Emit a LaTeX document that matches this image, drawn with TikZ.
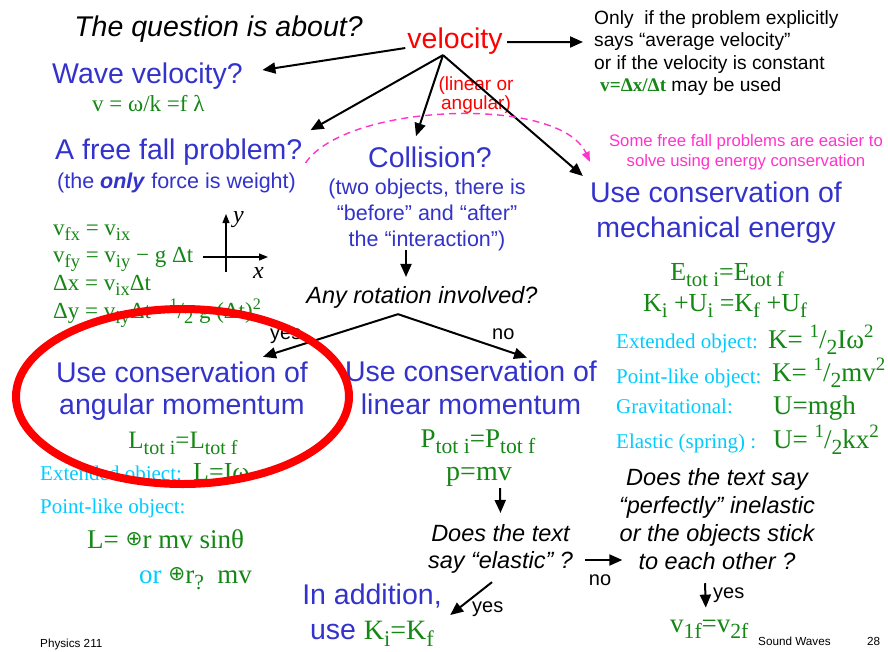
\documentclass[tikz,border=0pt]{standalone}
\usepackage{fontspec}
\usepackage{graphicx}
\setmainfont{Liberation Serif}
\setsansfont{Liberation Sans}
\newfontfamily\symfont{DejaVu Sans}
\usetikzlibrary{arrows.meta,positioning}
\definecolor{qblue}{RGB}{51,51,204}
\definecolor{qgreen}{RGB}{20,135,20}
\definecolor{qcyan}{RGB}{0,204,255}
\definecolor{qpink}{RGB}{255,51,204}
\definecolor{qred}{RGB}{255,0,0}
\newcommand{\fs}[2]{\fontsize{#1}{#2}\selectfont}
\newcommand{\sub}[1]{\raisebox{-0.25em}{\scalebox{0.8}{#1}}}
\newcommand{\sups}[1]{\raisebox{0.38em}{\scalebox{0.7}{#1}}}
\newcommand{\half}{\sups{1}/\sub{2}}
\newcommand{\rperp}{\raisebox{0.08em}{\scalebox{0.75}{\symfont\mdseries ⊕}}}

\begin{document}
\begin{tikzpicture}[x=1pt,y=-1pt]
\tikzset{head/.style={font=\sffamily\fs{28.5}{33.5},text=qblue,inner sep=0pt,align=center},
  ask/.style={font=\sffamily\itshape\fs{23.5}{28},inner sep=0pt,align=center},
  eq/.style={font=\rmfamily\fs{26}{30},text=qgreen,inner sep=0pt},
  lbl/.style={font=\rmfamily\fs{21}{25},text=qcyan,inner sep=0pt},
  tag/.style={font=\sffamily\fs{20}{24},inner sep=0pt},
  foot/.style={font=\sffamily\fs{11.7}{14},inner sep=0pt},
  arr/.style={-{Triangle[length=13pt,width=11pt]},line width=2pt},
  ax/.style={-{Triangle[length=9pt,width=7pt]},line width=1.2pt}}
\fill[white] (0,0) rectangle (888,651);
\useasboundingbox (0,0) rectangle (888,651);

% top row
\node[ask,font=\sffamily\itshape\fs{28.5}{34},anchor=base] (quest) at (218.5,36) {The question is about?};
\node[head,text=qred,anchor=base] (vel) at (455,48) {velocity};
\node[font=\sffamily\fs{19}{19},text=qred,inner sep=0pt,align=center] (kind) at (476,94.6) {(linear or\\angular)};
\node[font=\sffamily\fs{19.2}{22.5},inner sep=0pt,align=left,anchor=west] (note) at (594,53.25)
  {Only\ \ if the problem explicitly\\says “average velocity”\\or if the velocity is constant\\\hspace{6pt}{\rmfamily\bfseries\color{qgreen}v=Δx/Δt} may be used};
\coordinate (fork) at ([shift={(-12,1)}]vel.south);

% left column
\node[head,anchor=base west] (wave) at (52,83) {Wave velocity?};
\node[eq,font=\rmfamily\fs{23}{27},anchor=base west] (wavef) at (92,111.7) {v = ω/k =f λ};
\node[head,anchor=base west] (fall) at (55,159) {A free fall problem?};
\node[font=\sffamily\fs{21.5}{26},text=qblue,inner sep=0pt,anchor=base west] (fallw) at (57,188)
  {(the \textbf{\textit{only}} force is weight)};
\node[eq,font=\rmfamily\fs{23}{27},anchor=base west] (ff1) at (53,235) {v\sub{fx} = v\sub{ix}};
\node[eq,font=\rmfamily\fs{23}{27},anchor=base west] (ff2) at (53,262) {v\sub{fy} = v\sub{iy} − g Δt};
\node[eq,font=\rmfamily\fs{23}{27},anchor=base west] (ff3) at (53,290) {Δx = v\sub{ix}Δt};
\node[eq,font=\rmfamily\fs{23}{27},anchor=base west] (ff4) at (53,318) {Δy = v\sub{iy}Δt −\half\ g (Δt)\sups{2}};
\coordinate (orig) at (226,257);
\draw[ax] ([shift={(0,15)}]orig) -- ([shift={(0,-43)}]orig);
\draw[ax] ([shift={(-23,0)}]orig) -- ([shift={(42,0)}]orig);
\node[font=\rmfamily\itshape\fs{24}{28},inner sep=0pt,anchor=base west] (ylab) at (233,222) {y};
\node[font=\rmfamily\itshape\fs{24}{28},inner sep=0pt,anchor=base west] (xlab) at (253,278) {x};

% middle column
\node[head,anchor=base] (coll) at (430,167) {Collision?};
\node[font=\sffamily\fs{21.5}{26},text=qblue,inner sep=0pt,align=center] (collw) at (427,215.4)
  {(two objects, there is\\“before” and “after”\\the “interaction”)};
\node[ask,anchor=base] (rot) at (422,303) {Any rotation involved?};
\coordinate (split) at ([shift={(-24,6.1)}]rot.south);

\node[head,font=\sffamily\fs{28.5}{32}] (ang) at (182,391.5) {Use conservation of\\angular momentum};
\node[eq,font=\rmfamily\fs{25}{29},anchor=base] (angf) at (183,448) {L\sub{tot i}=L\sub{tot f}};
\node[lbl,anchor=base west] (angx) at (40,480) {Extended object:};
\node[eq,anchor=base west] (angxf) at (193,480) {L=Iω};
\node[lbl,anchor=base west] (angp) at (40,513) {Point-like object:};
\node[eq,font=\rmfamily\fs{27}{31},anchor=base west] (angp1) at (87,548) {L= \rperp r mv sinθ};
\node[eq,font=\rmfamily\fs{27}{31},anchor=base west] (angp2) at (139,583) {{\color{qcyan}or} \rperp r\sub{?}\ \ mv};

\node[head,font=\sffamily\fs{28.5}{33}] (lin) at (471,388) {Use conservation of\\linear momentum};
\node[eq,font=\rmfamily\fs{27}{31},anchor=base] (linf) at (478,447) {P\sub{tot i}=P\sub{tot f}};
\node[eq,font=\rmfamily\fs{28}{32},anchor=base] (pmv) at (479,480) {p=mv};
\node[ask,font=\sffamily\itshape\fs{23.5}{27}] (el) at (500.5,549.4) {Does the text\\say “elastic” ?};
\node[head,font=\sffamily\fs{28.5}{35}] (addn) at (372,615.6)
  {In addition,\\use {\rmfamily\fs{28}{35}\color{qgreen}K\sub{i}=K\sub{f}}};

% right column
\node[font=\sffamily\fs{16.7}{20},text=qpink,inner sep=0pt,align=center] (pinknote) at (746,152.6)
  {Some free fall problems are easier to\\solve using energy conservation};
\node[head,font=\sffamily\fs{28.5}{35}] (mech) at (716,213) {Use conservation of\\mechanical energy};
\node[eq,anchor=base] (mechf) at (727,280) {E\sub{tot i}=E\sub{tot f}};
\node[eq,anchor=base] (mechk) at (725,311) {K\sub{i} +U\sub{i} =K\sub{f} +U\sub{f}};
\node[lbl,anchor=base west] (mx) at (616,348) {Extended object:};
\node[eq,font=\rmfamily\fs{27}{31},anchor=base west] (mxf) at (768,348) {K= \half Iω\sups{2}};
\node[lbl,anchor=base west] (mp) at (616,383) {Point-like object:};
\node[eq,font=\rmfamily\fs{27}{31},anchor=base west] (mpf) at (772,381) {K= \half mv\sups{2}};
\node[lbl,anchor=base west] (mg) at (616,413) {Gravitational:};
\node[eq,font=\rmfamily\fs{27}{31},anchor=base west] (mgf) at (773,414) {U=mgh};
\node[lbl,anchor=base west] (ms) at (616,448) {Elastic (spring) :};
\node[eq,font=\rmfamily\fs{27}{31},anchor=base west] (msf) at (773,448) {U= \half kx\sups{2}};
\node[ask] (pin) at (717,519.4) {Does the text say\\“perfectly” inelastic\\or the objects stick\\to each other ?};
\node[eq,font=\rmfamily\fs{27}{31},anchor=base west] (vff) at (670,632) {v\sub{1f}=v\sub{2f}};

% connectors
\draw[arr] ([shift={(-2,7.4)}]vel.west) -- ([shift={(19.4,-5.6)}]wave.east);
\draw[arr] ([shift={(4.5,1.4)}]vel.east) -- ([shift={(-11,-11.25)}]note.west);
\draw[arr] (fork) -- ([shift={(8,-8)}]fall.north east);
\draw[arr] (fork) -- ([shift={(-14,-10)}]coll.north);
\draw[arr] (fork) -- ([shift={(-7,-6)}]mech.north west);
\draw[qpink,line width=1.4pt,dash pattern=on 7pt off 5pt,-{Triangle[length=10pt,width=8pt]}]
  ([shift={(3,11.4)}]fall.east) .. controls +(40,-60) and +(-30,-67) .. ([shift={(0,-20.2)}]mech.north west);
\draw[arr] ([shift={(-21,-1.5)}]collw.south) -- ([shift={(-16,-8.8)}]rot.north);
\draw[arr] (split) -- ([shift={(81,-5.2)}]ang.north);
\draw[arr] (split) -- ([shift={(56,-3.2)}]lin.north);
\node[tag,anchor=base west] (yes1) at (270,339) {yes};
\node[tag,anchor=base west] (no1) at (492,339) {no};
\draw[arr] ([shift={(21,2)}]pmv.south) -- ([shift={(0,-11.8)}]el.north);
\draw[arr] ([shift={(12,10.6)}]el.east) -- ([shift={(3.5,40.6)}]pin.west);
\node[tag,anchor=base] (no2) at (600,585) {no};
\draw[arr] ([shift={(-8.5,8.1)}]el.south) -- ([shift={(8.3,-0.6)}]addn.east);
\node[tag,anchor=base west] (yes2) at (472,612) {yes};
\draw[arr] ([shift={(-12,13)}]pin.south) -- ([shift={(-3.5,-11.8)}]vff.north);
\node[tag,anchor=base west] (yes3) at (713,598) {yes};

% footer
\node[foot,anchor=base west] (course) at (40,647) {Physics 211};
\node[foot,anchor=base west] (topic) at (758,645) {Sound Waves};
\node[foot,anchor=base west] (page) at (867,645) {28};

% highlight
\draw[qred,line width=8pt] ([shift={(0.5,5)}]ang.center) ellipse [x radius=166.5,y radius=87.5];
\end{tikzpicture}
\end{document}
